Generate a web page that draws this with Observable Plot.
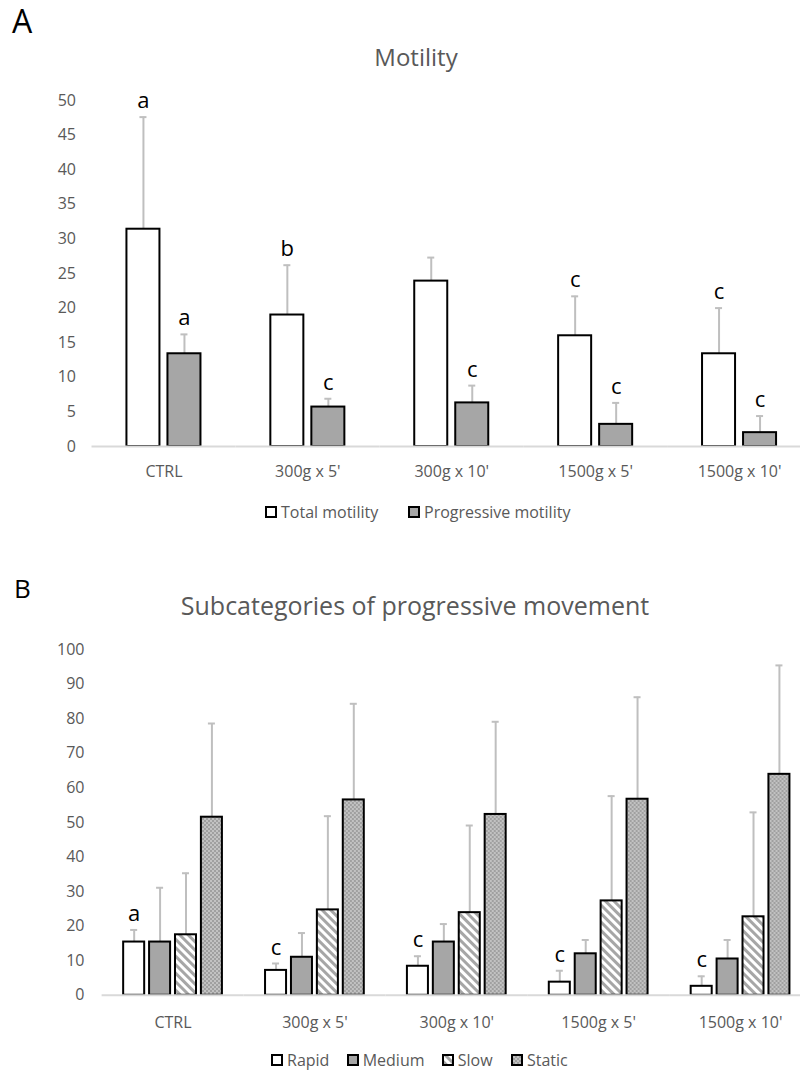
<!DOCTYPE html>
<html>
<head>
<meta charset="utf-8">
<script src="https://cdn.jsdelivr.net/npm/d3@7"></script>
<script src="https://cdn.jsdelivr.net/npm/@observablehq/plot@0.6"></script>
<style>
  html, body { margin: 0; padding: 0; background: white; }
  #page { position: relative; width: 800px; height: 1071px; overflow: hidden; background: white; font-family: "Open Sans", sans-serif; }
  .abs { position: absolute; line-height: normal; white-space: nowrap; }
  .panel { color: #000; }
  .title { color: #595959; text-align: center; }
  .ylab { color: #595959; font-size: 16px; transform: translate(-50%, -50%) rotate(-90deg); }
  .leg { display: flex; align-items: center; color: #595959; font-size: 16px; line-height: 18px; }
  .leg svg { margin-right: 4px; flex: none; }
</style>
</head>
<body>
<svg width="0" height="0" style="position:absolute">
  <defs>
    <pattern id="slowPat" patternUnits="userSpaceOnUse" width="6" height="6" patternTransform="rotate(-45)">
      <rect width="6" height="6" fill="white"></rect>
      <rect width="3" height="6" fill="#a6a6a6"></rect>
    </pattern>
    <pattern id="staticPat" patternUnits="userSpaceOnUse" width="4" height="4">
      <rect width="4" height="4" fill="#a0a0a0"></rect>
      <circle cx="1" cy="1" r="0.7" fill="white"></circle>
      <circle cx="3" cy="3" r="0.7" fill="white"></circle>
    </pattern>
  </defs>
</svg>
<div id="page">
  <div class="abs panel" style="left:12px;top:-1px;font-size:32px;">A</div>
  <div class="abs title" style="left:0;width:832px;top:39.5px;font-size:24px;">Motility</div>
  <div class="abs ylab" style="left:37px;top:272px;">%</div>
  <div id="chartA" class="abs" style="left:0;top:80px;width:811px;"></div>
  <div id="legendA"></div>

  <div class="abs panel" style="left:14px;top:570px;font-size:26px;">B</div>
  <div class="abs title" style="left:0;width:830px;top:587.5px;font-size:25px;">Subcategories of progressive movement</div>
  <div class="abs ylab" style="left:37px;top:821px;">%</div>
  <div id="chartB" class="abs" style="left:0;top:630px;width:811px;"></div>
  <div id="legendB"></div>
</div>
<script>
// ---------- data ----------
const categories = ["CTRL", "300g x 5'", "300g x 10'", "1500g x 5'", "1500g x 10'"];

// Panel A
const seriesA = ["Total motility", "Progressive motility"];
const totalMotility = [31.4, 19.0, 23.9, 16.0, 13.4];
const totalSD = [16.2, 7.2, 3.4, 5.7, 6.6];
const lettersTotal = ["a", "b", "", "c", "c"];
const progressiveMotility = [13.4, 5.7, 6.3, 3.2, 2.0];
const progressiveSD = [2.8, 1.2, 2.5, 3.1, 2.4];
const lettersProgressive = ["a", "c", "c", "c", "c"];
const ticksA = [0, 5, 10, 15, 20, 25, 30, 35, 40, 45, 50];

// Panel B
const seriesB = ["Rapid", "Medium", "Slow", "Static"];
const rapid = [15.4, 7.2, 8.4, 3.8, 2.6];
const rapidSD = [3.5, 2.0, 2.9, 3.3, 2.9];
const lettersRapid = ["a", "c", "c", "c", "c"];
const medium = [15.4, 11.0, 15.4, 12.0, 10.5];
const mediumSD = [15.7, 7.0, 5.2, 4.0, 5.5];
const slow = [17.5, 24.7, 23.9, 27.3, 22.7];
const slowSD = [17.8, 27.1, 25.2, 30.3, 30.2];
const staticMov = [51.5, 56.5, 52.3, 56.7, 63.9];
const staticSD = [27.1, 27.8, 26.8, 29.5, 31.5];
const ticksB = [0, 10, 20, 30, 40, 50, 60, 70, 80, 90, 100];

// ---------- build tables ----------
function build(series, values, sds, letters) {
  const rows = [];
  categories.forEach((c, i) => {
    series.forEach((s, j) => {
      rows.push({cat: c, series: s, value: values[j][i], sd: sds[j][i], top: values[j][i] + sds[j][i], letter: letters[j] ? letters[j][i] : ""});
    });
  });
  return rows;
}
const rowsA = build(seriesA, [totalMotility, progressiveMotility], [totalSD, progressiveSD], [lettersTotal, lettersProgressive]);
const rowsB = build(seriesB, [rapid, medium, slow, staticMov], [rapidSD, mediumSD, slowSD, staticSD], [lettersRapid, null, null, null]);

const fillsA = ["white", "#a6a6a6"];
const fillsB = ["white", "#a6a6a6", "url(#slowPat)", "url(#staticPat)"];

function chart(rows, series, fills, opts) {
  return Plot.plot({
    width: 811,
    height: 420,
    marginLeft: opts.marginLeft,
    marginRight: 0,
    marginTop: opts.marginTop,
    marginBottom: opts.marginBottom,
    style: {fontFamily: "Open Sans", fontSize: "16px", color: "#595959", background: "white", maxWidth: "none", overflow: "visible"},
    fx: {domain: categories, paddingInner: 0, paddingOuter: 0, axis: "bottom", label: null, tickSize: 0, tickPadding: opts.fxPad, round: false},
    x: {domain: series, paddingInner: opts.pi, paddingOuter: opts.po, axis: null, round: false},
    y: {domain: opts.ydomain, ticks: opts.ticks, tickSize: 0, tickPadding: opts.yPad, label: null},
    color: {domain: series, range: fills, legend: false},
    marks: [
      Plot.ruleX(rows, {fx: "cat", x: "series", y1: "value", y2: "top", stroke: "#bfbfbf", strokeWidth: 2}),
      Plot.tickY(rows, {fx: "cat", x: "series", y: "top", stroke: "#bfbfbf", strokeWidth: 2, insetLeft: opts.capInset, insetRight: opts.capInset}),
      Plot.barY(rows, {fx: "cat", x: "series", y: "value", fill: "series", stroke: "black", strokeWidth: 2}),
      Plot.ruleY([0], {stroke: "#d9d9d9", strokeWidth: 2}),
      Plot.text(rows.filter(d => d.letter), {fx: "cat", x: "series", y: "top", text: "letter", dy: -16, fontSize: 22, fill: "black", lineAnchor: "middle"})
    ]
  });
}

document.getElementById("chartA").appendChild(chart(rowsA, seriesA, fillsA, {
  marginLeft: 91.5, marginTop: 20, marginBottom: 54, fxPad: 19, yPad: 16,
  pi: 0.195, po: 0.852, ydomain: [0, 50], ticks: ticksA, capInset: 13
}));
document.getElementById("chartB").appendChild(chart(rowsB, seriesB, fillsB, {
  marginLeft: 101.6, marginTop: 19, marginBottom: 55.2, fxPad: 21, yPad: 17.6,
  pi: 0.189, po: 0.832, ydomain: [0, 100], ticks: ticksB, capInset: 7
}));

// ---------- legends ----------
function legend(id, names, fills, lefts, centerY) {
  const host = document.getElementById(id);
  names.forEach((n, i) => {
    const item = document.createElement("div");
    item.className = "abs leg";
    item.style.left = lefts[i] + "px";
    item.style.top = (centerY - 9) + "px";
    item.innerHTML = `<svg width="12" height="12"><rect x="1" y="1" width="10" height="10" fill="${fills[i]}" stroke="black" stroke-width="2"></rect></svg><span>${n}</span>`;
    host.appendChild(item);
  });
}
legend("legendA", seriesA, fillsA, [265, 408], 511.7);
legend("legendB", seriesB, fillsB, [271, 346.7, 441.7, 511], 1060.2);
</script>
</body>
</html>
